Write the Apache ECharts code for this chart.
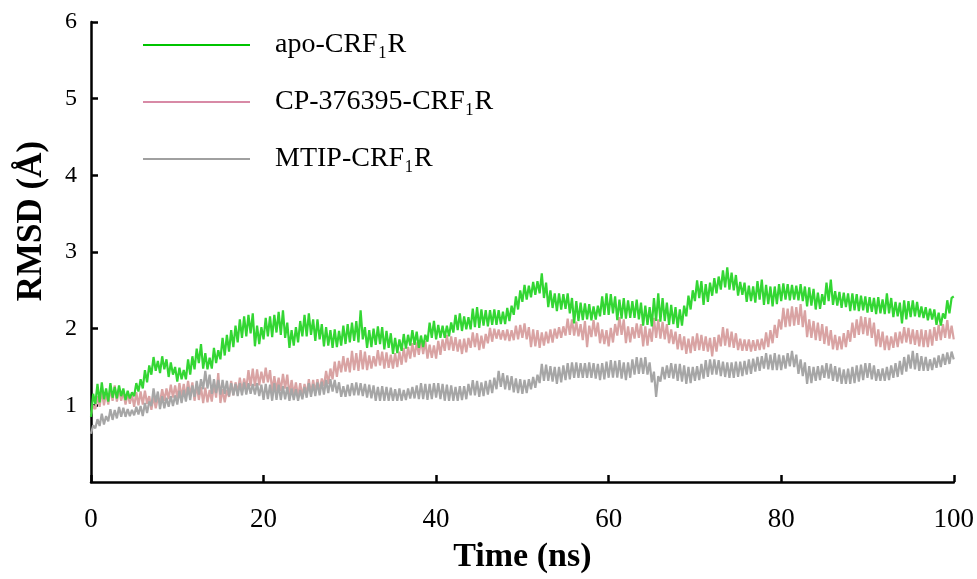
<!DOCTYPE html>
<html>
<head>
<meta charset="utf-8">
<script src="https://cdn.jsdelivr.net/npm/echarts@6/dist/echarts.min.js"></script>
<style>
html,body{margin:0;padding:0;background:#fff;}
#chart{width:977px;height:579px;}
</style>
</head>
<body>
<div id="chart"></div>
<script>
// Sampling step of the traces (ns)
const timeStep = 0.25;
const xTicks = [0, 20, 40, 60, 80, 100];
const yTicks = [1, 2, 3, 4, 5, 6];
const seriesNames = ['apo-CRF\u2081R', 'CP-376395-CRF\u2081R', 'MTIP-CRF\u2081R'];

// RMSD values (Å), one every 0.25 ns from 0 to 100 ns
const apoRMSD = [
  0.85,1.15,1.02,1.28, 1.04,1.30,1.08,1.22, 1.05,1.29,1.10,1.24, 1.09,1.26,1.12,1.22, 1.07,1.19,1.09,1.17,
  1.12,1.29,1.18,1.34, 1.22,1.46,1.30,1.52, 1.40,1.63,1.45,1.58, 1.42,1.64,1.47,1.60, 1.37,1.56,1.40,1.50,
  1.31,1.49,1.34,1.46, 1.34,1.60,1.40,1.64, 1.47,1.74,1.55,1.80, 1.48,1.68,1.47,1.62, 1.48,1.75,1.55,1.72,
  1.60,1.88,1.65,1.92, 1.70,1.98,1.76,2.04, 1.82,2.12,1.88,2.16, 1.90,2.18,1.94,2.20, 1.77,2.04,1.80,2.02,
  1.86,2.14,1.90,2.16, 1.89,2.18,1.95,2.22, 1.92,2.24,1.88,2.08, 1.75,1.98,1.78,2.02, 1.82,2.10,1.90,2.18,
  1.90,2.20,1.92,2.12, 1.84,2.12,1.86,2.06, 1.77,2.02,1.78,1.98, 1.75,1.99,1.76,1.97, 1.78,2.04,1.80,2.06,
  1.82,2.08,1.84,2.10, 1.82,2.24,1.86,2.02, 1.75,1.98,1.76,2.00, 1.79,2.03,1.80,2.02, 1.73,1.97,1.75,1.94,
  1.67,1.88,1.68,1.86, 1.71,1.93,1.74,1.92, 1.78,1.98,1.79,1.96, 1.75,1.91,1.76,1.92, 1.83,2.08,1.88,2.10,
  1.86,2.05,1.88,2.04, 1.88,2.04,1.90,2.08, 1.95,2.18,1.98,2.20, 1.97,2.16,1.99,2.15, 1.99,2.26,2.02,2.28,
  2.01,2.25,2.04,2.24, 2.03,2.24,2.05,2.25, 2.05,2.24,2.06,2.22, 2.06,2.27,2.10,2.30, 2.18,2.42,2.25,2.50,
  2.35,2.57,2.38,2.56, 2.41,2.61,2.44,2.62, 2.46,2.72,2.40,2.60, 2.28,2.50,2.27,2.46, 2.23,2.46,2.25,2.45,
  2.26,2.46,2.20,2.40, 2.07,2.36,2.10,2.34, 2.11,2.33,2.12,2.32, 2.11,2.29,2.12,2.30, 2.16,2.42,2.18,2.46,
  2.18,2.45,2.20,2.42, 2.11,2.38,2.13,2.40, 2.13,2.37,2.14,2.36, 2.14,2.38,2.12,2.34, 2.04,2.30,2.05,2.28,
  2.03,2.40,2.10,2.46, 2.09,2.40,2.10,2.34, 2.05,2.31,2.06,2.28, 2.01,2.25,2.04,2.30, 2.16,2.43,2.25,2.50,
  2.36,2.63,2.40,2.62, 2.31,2.58,2.35,2.60, 2.43,2.66,2.46,2.68, 2.51,2.76,2.54,2.80, 2.51,2.73,2.50,2.70,
  2.43,2.61,2.44,2.60, 2.35,2.56,2.36,2.55, 2.34,2.62,2.38,2.64, 2.31,2.57,2.32,2.55, 2.29,2.55,2.32,2.58,
  2.36,2.59,2.38,2.58, 2.37,2.57,2.38,2.56, 2.37,2.58,2.36,2.55, 2.29,2.54,2.30,2.52, 2.25,2.47,2.26,2.45,
  2.31,2.60,2.36,2.64, 2.31,2.49,2.30,2.48, 2.27,2.47,2.28,2.46, 2.23,2.46,2.24,2.45, 2.23,2.43,2.24,2.42,
  2.21,2.41,2.22,2.40, 2.19,2.41,2.20,2.38, 2.19,2.46,2.20,2.40, 2.15,2.35,2.16,2.34, 2.07,2.37,2.12,2.36,
  2.15,2.37,2.16,2.35, 2.15,2.29,2.14,2.28, 2.11,2.26,2.12,2.25, 2.05,2.21,2.04,2.20, 2.13,2.37,2.20,2.40,
  2.42
];
const cpRMSD = [
  0.88,1.00,0.95,1.12, 0.98,1.19,1.00,1.16, 1.01,1.23,1.06,1.26, 1.05,1.22,1.06,1.18, 1.01,1.16,1.02,1.14,
  0.98,1.17,1.00,1.18, 1.01,1.19,1.02,1.12, 0.94,1.12,0.96,1.10, 1.04,1.21,1.06,1.22, 1.08,1.27,1.10,1.26,
  1.09,1.29,1.10,1.28, 1.10,1.32,1.12,1.30, 1.06,1.27,1.07,1.24, 1.03,1.23,1.04,1.20, 1.05,1.28,1.10,1.42,
  1.03,1.21,1.04,1.20, 1.11,1.32,1.13,1.30, 1.16,1.36,1.18,1.35, 1.21,1.46,1.25,1.48, 1.25,1.47,1.26,1.44,
  1.29,1.49,1.30,1.46, 1.18,1.38,1.19,1.36, 1.19,1.41,1.22,1.40, 1.13,1.33,1.14,1.30, 1.11,1.29,1.12,1.28,
  1.14,1.34,1.15,1.33, 1.17,1.34,1.18,1.35, 1.25,1.45,1.28,1.48, 1.34,1.57,1.37,1.58, 1.43,1.64,1.44,1.62,
  1.43,1.71,1.46,1.68, 1.45,1.72,1.47,1.70, 1.46,1.65,1.48,1.64, 1.51,1.72,1.52,1.70, 1.48,1.69,1.49,1.66,
  1.48,1.68,1.50,1.70, 1.53,1.75,1.56,1.76, 1.61,1.81,1.63,1.82, 1.66,1.86,1.67,1.84, 1.61,1.79,1.62,1.78,
  1.61,1.84,1.66,1.86, 1.71,1.92,1.72,1.90, 1.71,1.89,1.70,1.86, 1.67,1.87,1.69,1.88, 1.75,1.95,1.76,1.94,
  1.72,1.91,1.74,1.93, 1.81,2.01,1.83,2.00, 1.87,1.99,1.86,1.98, 1.85,1.99,1.84,1.98, 1.85,2.04,1.86,2.05,
  1.88,2.07,1.86,2.02, 1.76,1.99,1.77,1.98, 1.75,1.95,1.78,1.96, 1.81,1.99,1.82,2.00, 1.87,2.02,1.88,2.03,
  1.91,2.13,1.92,2.12, 1.91,2.09,1.90,2.06, 1.85,2.10,1.76,2.04, 1.89,2.11,1.90,2.08, 1.81,1.99,1.80,1.98,
  1.77,2.01,1.82,2.06, 1.91,2.15,1.92,2.12, 1.81,2.03,1.82,2.02, 1.87,2.07,1.88,2.06, 1.77,2.03,1.78,2.00,
  1.83,2.14,1.88,2.12, 1.87,2.09,1.86,2.06, 1.81,1.99,1.80,1.96, 1.73,1.93,1.72,1.90, 1.67,1.87,1.68,1.90,
  1.71,1.94,1.72,1.92, 1.71,1.90,1.70,1.88, 1.64,1.89,1.70,1.92, 1.77,2.02,1.78,2.00, 1.76,1.96,1.75,1.94,
  1.72,1.87,1.71,1.86, 1.71,1.86,1.70,1.85, 1.71,1.86,1.72,1.87, 1.73,1.95,1.76,1.98, 1.81,2.05,1.88,2.12,
  1.99,2.27,2.02,2.26, 2.03,2.29,2.04,2.28, 2.05,2.32,2.02,2.24, 1.89,2.12,1.88,2.10, 1.85,2.08,1.84,2.06,
  1.80,2.03,1.78,1.98, 1.73,1.92,1.72,1.90, 1.73,1.94,1.76,1.98, 1.83,2.08,1.88,2.12, 1.92,2.16,1.93,2.15,
  1.91,2.14,1.88,2.08, 1.77,1.99,1.76,1.96, 1.72,1.91,1.72,1.90, 1.75,1.95,1.76,1.96, 1.81,2.02,1.82,2.01,
  1.80,1.99,1.79,1.98, 1.77,1.99,1.76,1.98, 1.76,1.99,1.78,2.02, 1.84,2.05,1.85,2.06, 1.88,2.11,1.87,2.04,
  1.86
];
const mtipRMSD = [
  0.63,0.74,0.70,0.82, 0.73,0.89,0.75,0.86, 0.79,0.95,0.81,0.94, 0.83,0.98,0.85,0.97, 0.85,0.95,0.86,0.94,
  0.87,0.98,0.88,0.99, 0.86,1.03,0.90,1.05, 0.99,1.22,1.04,1.18, 0.95,1.12,0.96,1.10, 0.98,1.12,0.99,1.13,
  1.01,1.19,1.03,1.20, 1.05,1.24,1.07,1.26, 1.11,1.32,1.14,1.34, 1.21,1.45,1.22,1.40, 1.15,1.34,1.16,1.33,
  1.14,1.33,1.15,1.32, 1.12,1.29,1.13,1.28, 1.12,1.29,1.13,1.30, 1.14,1.29,1.15,1.28, 1.14,1.29,1.12,1.27,
  1.07,1.28,1.08,1.27, 1.06,1.29,1.07,1.27, 1.07,1.25,1.08,1.24, 1.06,1.22,1.07,1.21, 1.06,1.20,1.08,1.24,
  1.10,1.29,1.11,1.28, 1.12,1.30,1.13,1.31, 1.14,1.33,1.16,1.34, 1.18,1.33,1.16,1.30, 1.11,1.25,1.11,1.27,
  1.12,1.29,1.13,1.30, 1.13,1.29,1.12,1.28, 1.10,1.27,1.09,1.26, 1.06,1.24,1.06,1.25, 1.06,1.24,1.06,1.23,
  1.06,1.21,1.06,1.22, 1.06,1.20,1.07,1.22, 1.09,1.24,1.09,1.26, 1.08,1.29,1.08,1.28, 1.07,1.28,1.08,1.29,
  1.10,1.29,1.08,1.28, 1.06,1.27,1.06,1.26, 1.06,1.24,1.06,1.25, 1.07,1.25,1.08,1.28, 1.13,1.33,1.13,1.32,
  1.11,1.30,1.12,1.32, 1.14,1.33,1.16,1.36, 1.21,1.45,1.24,1.42, 1.21,1.39,1.20,1.38, 1.17,1.35,1.16,1.34,
  1.15,1.33,1.16,1.34, 1.21,1.37,1.23,1.40, 1.29,1.54,1.32,1.53, 1.32,1.51,1.31,1.50, 1.28,1.50,1.30,1.52,
  1.33,1.55,1.34,1.56, 1.36,1.56,1.36,1.55, 1.36,1.55,1.36,1.56, 1.36,1.55,1.35,1.54, 1.33,1.55,1.34,1.57,
  1.36,1.59,1.36,1.58, 1.36,1.59,1.35,1.56, 1.33,1.56,1.36,1.60, 1.40,1.63,1.41,1.62, 1.41,1.63,1.40,1.56,
  1.30,1.44,1.11,1.38, 1.31,1.50,1.34,1.52, 1.36,1.55,1.35,1.54, 1.32,1.54,1.31,1.52, 1.28,1.50,1.29,1.50,
  1.32,1.51,1.33,1.54, 1.35,1.59,1.37,1.60, 1.40,1.60,1.40,1.59, 1.38,1.57,1.37,1.56, 1.36,1.56,1.36,1.57,
  1.37,1.57,1.38,1.58, 1.40,1.60,1.41,1.61, 1.44,1.63,1.45,1.64, 1.48,1.68,1.47,1.66, 1.46,1.68,1.46,1.66,
  1.46,1.65,1.48,1.68, 1.51,1.71,1.50,1.66, 1.41,1.60,1.38,1.56, 1.28,1.51,1.29,1.50, 1.32,1.51,1.33,1.52,
  1.36,1.55,1.35,1.54, 1.32,1.51,1.31,1.49, 1.28,1.47,1.28,1.48, 1.28,1.50,1.29,1.52, 1.31,1.53,1.33,1.55,
  1.36,1.55,1.34,1.52, 1.32,1.47,1.32,1.48, 1.32,1.50,1.33,1.52, 1.36,1.55,1.37,1.58, 1.40,1.63,1.44,1.66,
  1.48,1.71,1.47,1.68, 1.45,1.64,1.45,1.63, 1.45,1.60,1.46,1.62, 1.49,1.65,1.50,1.67, 1.53,1.69,1.54,1.70,
  1.60
];

const plotColors = ['#33d633', '#d9a3a3', '#a6a6a6'];
const legendColors = ['#00c400', '#d88aa6', '#a0a0a0'];
const seriesZ = [5, 3, 4];

function toPairs(values) {
  return values.map((v, i) => [i * timeStep, v]);
}

const serif = '"Liberation Serif", "Times New Roman", serif';
const chart = echarts.init(document.getElementById('chart'), null, {renderer: 'canvas'});
const allData = [apoRMSD, cpRMSD, mtipRMSD];

chart.setOption({
  animation: false,
  backgroundColor: '#ffffff',
  grid: {left: 91, right: 22, top: 22, bottom: 95, containLabel: false},
  legend: {
    orient: 'vertical',
    left: 138,
    top: 25,
    icon: 'rect',
    itemWidth: 107,
    itemHeight: 2,
    itemGap: 27,
    data: seriesNames.map((n, i) => ({
      name: n,
      itemStyle: {color: legendColors[i]},
      lineStyle: {color: legendColors[i]}
    })),
    textStyle: {
      fontFamily: serif, fontSize: 28, color: '#000', lineHeight: 30,
      padding: [0, 0, 0, 20]
    }
  },
  xAxis: {
    type: 'value',
    min: 0, max: 100, interval: 20,
    name: 'Time (ns)',
    nameLocation: 'middle',
    nameGap: 58,
    nameTextStyle: {fontFamily: serif, fontSize: 34, fontWeight: 'bold', color: '#000'},
    axisLine: {show: true, onZero: false, lineStyle: {color: '#000', width: 2.5}},
    axisTick: {show: true, inside: true, length: 7, lineStyle: {color: '#000', width: 2.5}},
    axisLabel: {fontFamily: serif, fontSize: 27, color: '#000', margin: 24,
      formatter: v => (xTicks.indexOf(v) >= 0 ? String(v) : '')},
    splitLine: {show: false}
  },
  yAxis: {
    type: 'value',
    min: 0, max: 6, interval: 1,
    name: 'RMSD (Å)',
    nameLocation: 'middle',
    nameGap: 42,
    nameTextStyle: {fontFamily: serif, fontSize: 35, fontWeight: 'bold', color: '#000', padding: [0, 0, 0, 62]},
    axisLine: {show: true, lineStyle: {color: '#000', width: 2.5}},
    axisTick: {show: true, inside: true, length: 7, lineStyle: {color: '#000', width: 2.5}},
    axisLabel: {fontFamily: serif, fontSize: 24, color: '#000', margin: 14, showMinLabel: false,
      formatter: v => (yTicks.indexOf(v) >= 0 ? String(v) : '')},
    splitLine: {show: false}
  },
  series: seriesNames.map((n, i) => ({
    name: n,
    type: 'line',
    data: toPairs(allData[i]),
    showSymbol: false,
    symbol: 'none',
    lineStyle: {color: plotColors[i], width: 2.2},
    itemStyle: {color: plotColors[i]},
    z: seriesZ[i]
  }))
});
</script>
</body>
</html>
